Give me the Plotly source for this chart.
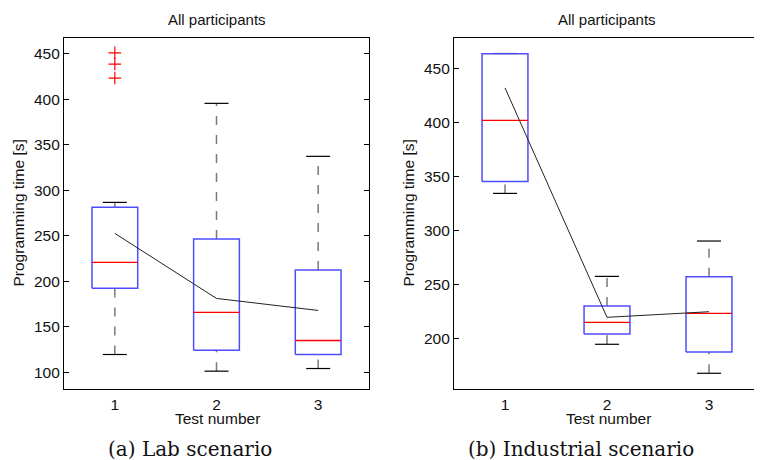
import plotly.graph_objects as go
from plotly.subplots import make_subplots

# ---------------- data ----------------
tests = [1, 2, 3]
tick_labels = ["1", "2", "3"]

lab_q1 = [192.5, 124.4, 119.6]
lab_median = [220.8, 165.8, 135.0]
lab_q3 = [281.5, 246.4, 212.3]
lab_lower = [119.6, 101.3, 104.2]
lab_upper = [286.7, 395.5, 337.3]
lab_mean = [252.6, 181.2, 168.0]
lab_outlier_x = [1, 1, 1]
lab_outlier_y = [451.0, 438.7, 423.3]

ind_q1 = [345.6, 204.1, 187.4]
ind_median = [402.2, 214.9, 223.2]
ind_q3 = [464.0, 230.0, 257.2]
ind_lower = [334.5, 194.5, 167.6]
ind_upper = [464.3, 257.5, 290.3]
ind_mean = [432.4, 219.5, 224.7]

lab_yticks = [100, 150, 200, 250, 300, 350, 400, 450]
ind_yticks = [200, 250, 300, 350, 400, 450]

# ---------------- style ----------------
BOX_HALF = 0.225
CAP_HALF = 0.118
SANS = "Liberation Sans, Arial, sans-serif"
SERIF = "DejaVu Serif, serif"

fig = make_subplots(rows=1, cols=2)


def seg_xy(segments):
    xs, ys = [], []
    for (x0, y0, x1, y1) in segments:
        xs += [x0, x1, None]
        ys += [y0, y1, None]
    return xs, ys


def add_panel(col, q1, med, q3, lo, hi, mean, out_x=None, out_y=None):
    # whiskers (dashed)
    wx, wy = seg_xy([(t, a, t, b) for t, a, b in zip(tests, q3, hi)] +
                    [(t, a, t, b) for t, a, b in zip(tests, lo, q1)])
    fig.add_trace(go.Scatter(x=wx, y=wy, mode="lines",
                             line=dict(color="#7a7a7a", width=1.5, dash="9px,10px"),
                             hoverinfo="skip", showlegend=False), row=1, col=col)
    # caps
    cx, cy = seg_xy([(t - CAP_HALF, v, t + CAP_HALF, v) for t, v in zip(tests, hi)] +
                    [(t - CAP_HALF, v, t + CAP_HALF, v) for t, v in zip(tests, lo)])
    fig.add_trace(go.Scatter(x=cx, y=cy, mode="lines",
                             line=dict(color="black", width=1.2),
                             hoverinfo="skip", showlegend=False), row=1, col=col)
    # boxes
    bx, by = [], []
    for t, a, b in zip(tests, q1, q3):
        bx += [t - BOX_HALF, t + BOX_HALF, t + BOX_HALF, t - BOX_HALF, t - BOX_HALF, None]
        by += [a, a, b, b, a, None]
    fig.add_trace(go.Scatter(x=bx, y=by, mode="lines",
                             line=dict(color="#4d4dff", width=1.5),
                             hoverinfo="skip", showlegend=False), row=1, col=col)
    # medians
    mx, my = seg_xy([(t - BOX_HALF, v, t + BOX_HALF, v) for t, v in zip(tests, med)])
    fig.add_trace(go.Scatter(x=mx, y=my, mode="lines",
                             line=dict(color="red", width=1.3),
                             hoverinfo="skip", showlegend=False), row=1, col=col)
    # outliers
    if out_x:
        fig.add_trace(go.Scatter(x=out_x, y=out_y, mode="markers",
                                 marker=dict(symbol="cross-thin", size=9,
                                             line=dict(color="red", width=1.2)),
                                 hoverinfo="skip", showlegend=False), row=1, col=col)
    # mean line
    fig.add_trace(go.Scatter(x=tests, y=mean, mode="lines",
                             line=dict(color="#222222", width=1),
                             hoverinfo="skip", showlegend=False), row=1, col=col)


add_panel(1, lab_q1, lab_median, lab_q3, lab_lower, lab_upper, lab_mean,
          lab_outlier_x, lab_outlier_y)
add_panel(2, ind_q1, ind_median, ind_q3, ind_lower, ind_upper, ind_mean)

# page body has an 8px default margin, so the figure is shifted by OFF
OFF = 8
W, H = 762 - OFF, 460 - OFF
ML, MR, MT, MB = 64 - OFF, 2, 38 - OFF, 71
PW = W - ML - MR
PH = H - MT - MB


def px(x):
    return (x - OFF - ML) / PW


def py(y):
    return (H - MB - (y - OFF)) / PH


axis_common = dict(showgrid=False, zeroline=False, showline=True,
                   linecolor="black", linewidth=1.2,
                   tickfont=dict(family=SANS, size=15.5, color="#111"))

fig.update_xaxes(**axis_common, mirror=True, ticks="", range=[0.5, 3.5],
                 tickmode="array", tickvals=tests, ticktext=tick_labels,
                 ticklabelstandoff=1)
fig.update_yaxes(**axis_common, mirror="ticks", ticks="inside", ticklen=5,
                 tickcolor="black", tickwidth=1.2)

fig.update_xaxes(domain=[px(64), px(369)], row=1, col=1)
fig.update_xaxes(domain=[px(454), 1.0], row=1, col=2)
fig.update_yaxes(range=[81.7, 467.3], tickmode="array", tickvals=lab_yticks,
                 row=1, col=1)
fig.update_yaxes(range=[153.0, 478.7], tickmode="array", tickvals=ind_yticks,
                 row=1, col=2)

ann = []
for cx_, yx_ in [(216.5, 18), (607, 408)]:
    ann.append(dict(text="All participants", x=px(cx_), y=py(20),
                    xref="paper", yref="paper", showarrow=False,
                    xanchor="center", yanchor="middle",
                    font=dict(family=SANS, size=15, color="#111")))
    ann.append(dict(text="Test number", x=px(cx_ + 1), y=py(419),
                    xref="paper", yref="paper", showarrow=False,
                    xanchor="center", yanchor="middle",
                    font=dict(family=SANS, size=15.5, color="#111")))
    ann.append(dict(text="Programming time [s]", x=px(yx_), y=py(213.5),
                    xref="paper", yref="paper", showarrow=False, textangle=-90,
                    xanchor="center", yanchor="middle",
                    font=dict(family=SANS, size=15.5, color="#111")))
ann.append(dict(text="(a) Lab scenario", x=px(190), y=py(449),
                xref="paper", yref="paper", showarrow=False,
                xanchor="center", yanchor="middle",
                font=dict(family=SERIF, size=20, color="#111")))
ann.append(dict(text="(b) Industrial scenario", x=px(581), y=py(449),
                xref="paper", yref="paper", showarrow=False,
                xanchor="center", yanchor="middle",
                font=dict(family=SERIF, size=20, color="#111")))

fig.update_layout(width=W, height=H,
                  margin=dict(l=ML, r=MR, t=MT, b=MB, pad=0),
                  plot_bgcolor="white", paper_bgcolor="white",
                  showlegend=False, annotations=ann)

fig.write_html("out.html")
